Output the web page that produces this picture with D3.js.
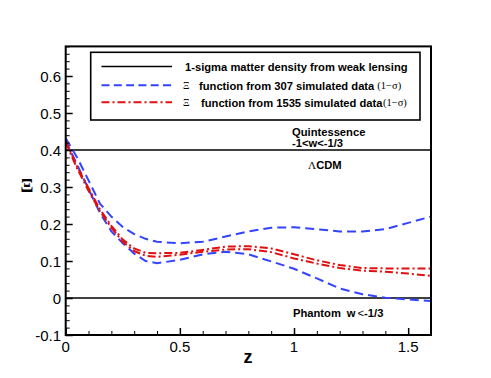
<!DOCTYPE html>
<html>
<head>
<meta charset="utf-8">
<script src="https://cdn.jsdelivr.net/npm/d3@7"></script>
<style>
  html, body { margin: 0; padding: 0; background: #fff; }
  svg { display: block; }
  text { font-family: "Liberation Sans", Arial, Helvetica, sans-serif; }
</style>
</head>
<body>
<div id="chart"></div>
<script>
// ---- data ----
const zValues = [0, 0.05, 0.1, 0.15, 0.2, 0.25, 0.3, 0.35, 0.4, 0.5, 0.6, 0.7, 0.8, 0.9, 1.0, 1.1, 1.2, 1.3, 1.4, 1.5, 1.6];
const blueUpper = [0.432, 0.38, 0.318, 0.255, 0.22, 0.192, 0.173, 0.16, 0.152, 0.148, 0.152, 0.166, 0.18, 0.19, 0.191, 0.186, 0.18, 0.18, 0.186, 0.203, 0.22];
const blueLower = [0.425, 0.36, 0.295, 0.23, 0.18, 0.148, 0.12, 0.1, 0.094, 0.103, 0.118, 0.125, 0.118, 0.099, 0.079, 0.053, 0.026, 0.01, 0.001, -0.004, -0.008];
const redUpper  = [0.425, 0.355, 0.297, 0.24, 0.195, 0.158, 0.134, 0.122, 0.121, 0.122, 0.13, 0.139, 0.14, 0.134, 0.118, 0.102, 0.089, 0.081, 0.08, 0.08, 0.08];
const redLower  = [0.42, 0.35, 0.29, 0.235, 0.19, 0.152, 0.127, 0.114, 0.111, 0.117, 0.125, 0.131, 0.132, 0.124, 0.107, 0.093, 0.081, 0.074, 0.071, 0.066, 0.06];
const refLevels = [0.4, 0];
const xTicks = [0, 0.5, 1, 1.5];
const xTickLabels = ["0", "0.5", "1", "1.5"];
const yTicks = [-0.1, 0, 0.1, 0.2, 0.3, 0.4, 0.5, 0.6];
const yTickLabels = ["-0.1", "0", "0.1", "0.2", "0.3", "0.4", "0.5", "0.6"];
const legendLabels = [
  "1-sigma matter density from weak lensing",
  "function from 307 simulated data",
  "function from 1535 simulated data"
];

// ---- layout ----
const W = 491, H = 378;
const x = d3.scaleLinear().domain([0, 1.6]).range([65.7, 431]);
const y = d3.scaleLinear().domain([-0.1, 0.68]).range([335, 46.4]);

const svg = d3.select("#chart").append("svg").attr("width", W).attr("height", H);

const BLUE = "#3344ff", RED = "#e01010";

// reference lines
svg.selectAll("line.ref").data(refLevels).enter().append("line")
  .attr("x1", x(0)).attr("x2", x(1.6))
  .attr("y1", d => y(d)).attr("y2", d => y(d))
  .attr("stroke", "#000").attr("stroke-width", 1.6);

// curves
const line = d3.line().x(d => x(d[0])).y(d => y(d[1]));
const series = [
  {vals: blueUpper, color: BLUE, dash: "9,5"},
  {vals: blueLower, color: BLUE, dash: "9,5"},
  {vals: redUpper, color: RED, dash: "8,3,2,3"},
  {vals: redLower, color: RED, dash: "8,3,2,3"}
];
svg.append("defs").append("clipPath").attr("id", "clip")
  .append("rect").attr("x", x(0)).attr("y", y(0.68)).attr("width", x(1.6) - x(0)).attr("height", y(-0.1) - y(0.68));
svg.append("g").attr("clip-path", "url(#clip)").selectAll("path").data(series).enter().append("path")
  .attr("d", s => line(zValues.map((z, i) => [z, s.vals[i]])))
  .attr("fill", "none").attr("stroke", s => s.color).attr("stroke-width", 2)
  .attr("stroke-dasharray", s => s.dash);

// axes: ticks inward
const xMinor = d3.range(0, 1.61, 0.1).filter(v => xTicks.every(t => Math.abs(t - v) > 1e-6));
const yMinor = d3.range(-0.1, 0.681, 0.02).filter(v => yTicks.every(t => Math.abs(t - v) > 1e-6));

const xAxis = d3.axisTop(x).tickValues(xTicks).tickSize(7).tickFormat("");
const xAxisMinor = d3.axisTop(x).tickValues(xMinor).tickSize(4).tickFormat("");
const yAxis = d3.axisRight(y).tickValues(yTicks).tickSize(7).tickFormat("");
const yAxisMinor = d3.axisRight(y).tickValues(yMinor).tickSize(4).tickFormat("");

function styleAxis(g) {
  g.select(".domain").remove();
  g.selectAll(".tick line").attr("stroke", "#000").attr("stroke-width", 1.5);
}
svg.append("g").attr("transform", `translate(0,${y(-0.1)})`).call(xAxis).call(styleAxis);
svg.append("g").attr("transform", `translate(0,${y(-0.1)})`).call(xAxisMinor).call(styleAxis)
  .selectAll(".tick line").attr("stroke-width", 1);
svg.append("g").attr("transform", `translate(${x(0)},0)`).call(yAxis).call(styleAxis);
svg.append("g").attr("transform", `translate(${x(0)},0)`).call(yAxisMinor).call(styleAxis)
  .selectAll(".tick line").attr("stroke-width", 1);

// tick labels
svg.selectAll("text.xt").data(xTicks).enter().append("text")
  .attr("x", d => x(d)).attr("y", 352).attr("text-anchor", "middle")
  .attr("font-size", 15).text((d, i) => xTickLabels[i]);
svg.selectAll("text.yt").data(yTicks).enter().append("text")
  .attr("x", 61).attr("y", d => y(d) + 5.5).attr("text-anchor", "end")
  .attr("font-size", 15).text((d, i) => yTickLabels[i]);

// frame
svg.append("rect").attr("x", x(0)).attr("y", y(0.68))
  .attr("width", x(1.6) - x(0)).attr("height", y(-0.1) - y(0.68))
  .attr("fill", "none").attr("stroke", "#000").attr("stroke-width", 2);

// axis titles
svg.append("text").attr("x", 248).attr("y", 363).attr("text-anchor", "middle")
  .attr("font-size", 18).attr("font-weight", "bold").text("z");
svg.append("text").attr("x", 27).attr("y", 192).attr("text-anchor", "middle")
  .style("font-family", "'Liberation Serif', 'Times New Roman', serif")
  .attr("font-size", 19).attr("font-weight", "bold").text("Ξ");

// legend
const lg = svg.append("g");
lg.append("rect").attr("x", 90.7).attr("y", 52.3).attr("width", 420 - 90.7).attr("height", 120 - 52.3)
  .attr("fill", "#fff").attr("stroke", "#000").attr("stroke-width", 1.6);
const legendRows = [
  {y: 66.5, color: "#000", dash: null, width: 1.6, xi: null, xt: 185, sigmaGap: null},
  {y: 85.3, color: BLUE, dash: "8,4.3", width: 2, xi: 183, xt: 199, sigmaGap: 3},
  {y: 102.3, color: RED, dash: "8,3,2,3", width: 2, xi: 183, xt: 201, sigmaGap: 0.5}
];
legendRows.forEach((r, i) => {
  lg.append("line").attr("x1", 101.5).attr("x2", 172).attr("y1", r.y).attr("y2", r.y)
    .attr("stroke", r.color).attr("stroke-width", r.width)
    .attr("stroke-dasharray", r.dash);
  if (r.xi !== null) {
    lg.append("text").attr("x", r.xi).attr("y", r.y + 3.5)
      .style("font-family", "'Liberation Serif', 'Times New Roman', serif")
      .attr("font-size", 10).text("Ξ");
  }
  const t = lg.append("text").attr("x", r.xt).attr("y", r.y + 4.2)
    .attr("font-size", 11.2).attr("font-weight", "bold").text(legendLabels[i]);
  if (r.sigmaGap !== null) {
    const end = r.xt + t.node().getComputedTextLength();
    lg.append("text").attr("x", end + r.sigmaGap).attr("y", r.y + 4)
      .style("font-family", "'Liberation Serif', 'Times New Roman', serif")
      .attr("font-size", 10.5).text("(1−σ)");
  }
});

// region annotations
svg.append("text").attr("x", 292).attr("y", 136).attr("font-size", 11.2).attr("font-weight", "bold").text("Quintessence");
svg.append("text").attr("x", 292).attr("y", 147).attr("font-size", 11.2).attr("font-weight", "bold").text("-1<w<-1/3");
const lc = svg.append("text").attr("x", 308).attr("y", 169).attr("font-size", 11.2).attr("font-weight", "bold");
lc.append("tspan").style("font-family", "'Liberation Serif', 'Times New Roman', serif").attr("font-weight", "normal").text("Λ");
lc.append("tspan").text("CDM");
const ph = svg.append("text").attr("x", 293).attr("y", 317).attr("font-size", 11.2).attr("font-weight", "bold");
ph.append("tspan").text("Phantom");
ph.append("tspan").attr("dx", 6).text("w");
ph.append("tspan").attr("dx", 2).attr("font-weight", "normal").text("<");
ph.append("tspan").text("-1/3");
</script>
</body>
</html>
